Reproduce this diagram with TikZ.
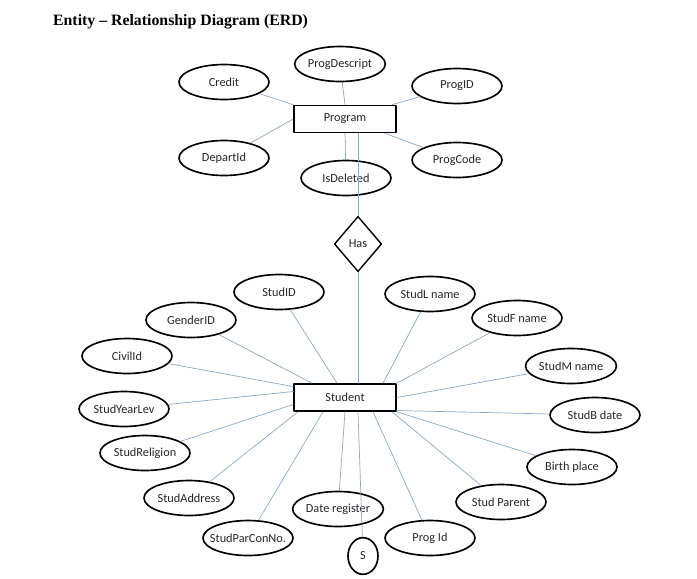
\documentclass[tikz,border=0pt]{standalone}
\usepackage{fontspec}
\setmainfont{Carlito}
\newfontfamily\titlefont[Ligatures=TeX]{Liberation Serif}
\usetikzlibrary{shapes.geometric}
\definecolor{linkblue}{RGB}{140,168,196}
\tikzset{
    attr/.style = {draw, ellipse, line width=1.4pt, minimum width=2.7cm, minimum height=1.05cm,
        inner sep=0pt, font=\fontsize{10.5}{12}\selectfont, text=black!85},
    entity/.style = {draw, rectangle, line width=1.4pt, minimum width=3.06cm, minimum height=0.81cm,
        inner sep=0pt, font=\fontsize{10.5}{12}\selectfont, text=black!85},
    relation/.style = {draw, diamond, line width=1.2pt, minimum width=1.42cm, minimum height=1.66cm,
        inner sep=0pt, font=\fontsize{10.5}{12}\selectfont, text=black!85},
    link/.style = {draw=linkblue, line width=0.6pt}
}
\begin{document}
\begin{tikzpicture}[line cap=round,line join=round,x=0.03cm,y=-0.03cm]
    \useasboundingbox (0,0) rectangle (697,578);

    \node[anchor=base west, font=\titlefont\bfseries\fontsize{13.5}{16}\selectfont] (title) at (49,25.5) {Entity \textendash{} Relationship Diagram (ERD)};

    % program side
    \node[entity] (prog) at (345,119) {Program};
    \node[attr] (credit) at (224,82) {Credit};
    \node[attr] (pdesc) at (340,64) {ProgDescript};
    \node[attr] (pid) at (457,86) {ProgID};
    \node[attr] (dept) at (224,158) {DepartId};
    \node[attr] (pcode) at (457,160) {ProgCode};
    \node[attr] (isdel) at (346,178) {IsDeleted};
    \node[relation] (has) at (358,244) {Has};

    % student side
    \node[entity] (stu) at (345,397.5) {Student};
    \node[attr] (sid) at (279,292) {StudID};
    \node[attr] (sln) at (430,294) {StudL name};
    \node[attr] (gid) at (191,320) {GenderID};
    \node[attr] (sfn) at (517,318) {StudF name};
    \node[attr] (cid) at (127,356) {CivilId};
    \node[attr] (smn) at (571,366) {StudM name};
    \node[attr] (syl) at (124,409) {StudYearLev};
    \node[attr] (sbd) at (595,415) {StudB date};
    \node[attr] (srel) at (145,453) {StudReligion};
    \node[attr] (bplace) at (572,467) {Birth place};
    \node[attr] (sadd) at (189,498) {StudAddress};
    \node[attr] (spar) at (501,502) {Stud Parent};
    \node[attr] (dreg) at (338,509) {Date register};
    \node[attr, inner xsep=-0.25cm] (spcn) at (248,538) {StudParConNo.};
    \node[attr] (pgid) at (430,538) {Prog Id};
    \node[attr, minimum width=0.9cm, minimum height=1.1cm] (s) at (363,556) {S};

    % program links
    \draw[link] (credit) -- (prog.north west);
    \draw[link] (pdesc) -- (prog.north);
    \draw[link] (pid) -- ([shift={(47,0)}]prog.north);
    \draw[link] (dept) -- (prog.west);
    \draw[link] (pcode) -- ([shift={(40,0)}]prog.south);
    \draw[link] (isdel) -- (prog.south);
    \draw[link] (prog.south -| has) -- (has.north);
    \draw[link] (has.south) -- (has |- stu.north);

    % student links
    \draw[link] (sid) -- ([shift={(-8,0)}]stu.north);
    \draw[link] (gid) -- ([shift={(-33,0)}]stu.north);
    \draw[link] (sln) -- ([shift={(38,0)}]stu.north);
    \draw[link] (sfn) -- (stu.north east);
    \draw[link] (cid) -- ([shift={(0,-11)}]stu.west);
    \draw[link] (syl) -- ([shift={(0,-6)}]stu.west);
    \draw[link] (srel) -- ([shift={(0,7)}]stu.west);
    \draw[link] (smn) -- (stu.east);
    \draw[link] (sbd) -- ([shift={(0,13)}]stu.east);
    \draw[link] (sadd) -- ([shift={(-47,0)}]stu.south);
    \draw[link] (spcn) -- ([shift={(-22,0)}]stu.south);
    \draw[link] (dreg) -- (stu.south);
    \draw[link] (s) -- ([shift={(13,0)}]stu.south);
    \draw[link] (pgid) -- ([shift={(28,0)}]stu.south);
    \draw[link] (spar) -- ([shift={(47,0)}]stu.south);
    \draw[link] (bplace) -- (stu.south east);
\end{tikzpicture}
\end{document}
